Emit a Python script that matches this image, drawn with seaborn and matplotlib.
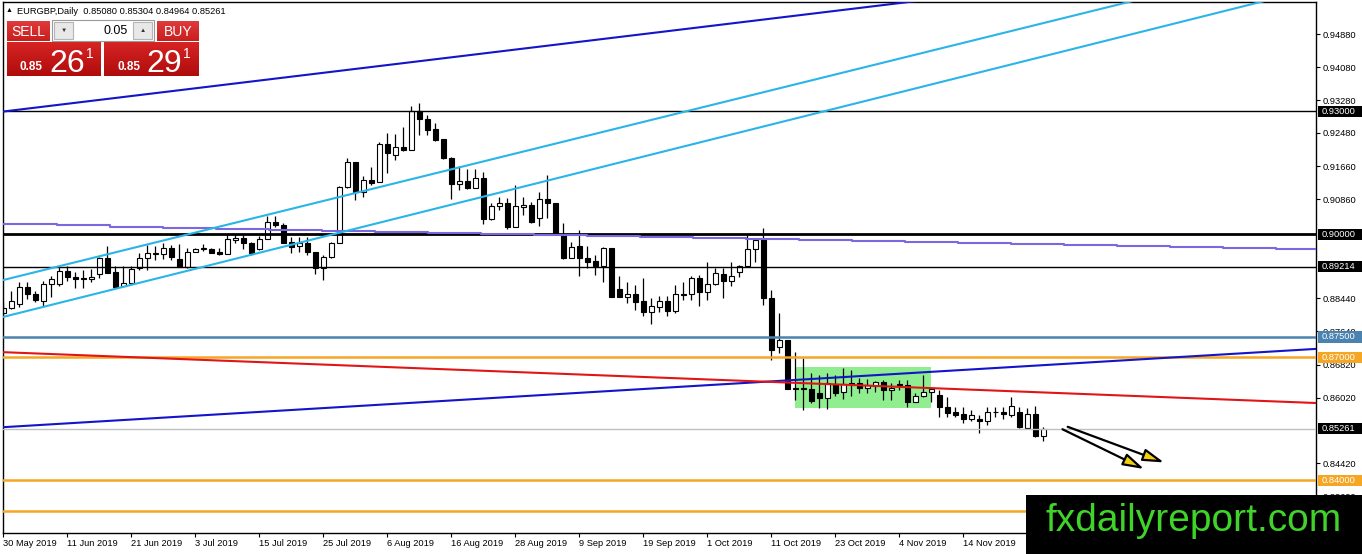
import matplotlib
matplotlib.use("Agg")
import matplotlib.pyplot as plt
import matplotlib.patches as mpatches
import matplotlib.colors as mcolors
import numpy as np
import pandas as pd
import seaborn as sns

# ---------------------------------------------------------------------------
# EURGBP daily candles (30 May 2019 -> 28 Nov 2019), one entry per trading day
# ---------------------------------------------------------------------------
opens = [
    0.8809, 0.8820, 0.8830, 0.8871, 0.8855, 0.8839, 0.8879, 0.8880, 0.8911, 0.8896,
    0.8893, 0.8892, 0.8903, 0.8943, 0.8908, 0.8875, 0.8881, 0.8918, 0.8942, 0.8952,
    0.8952, 0.8968, 0.8940, 0.8920, 0.8958, 0.8964, 0.8965, 0.8957, 0.8952, 0.8986,
    0.8992, 0.8980, 0.8964, 0.8988, 0.9030, 0.9023, 0.8981, 0.8972, 0.8980, 0.8958,
    0.8918, 0.8944, 0.8980, 0.9115, 0.9176, 0.9103, 0.9133, 0.9129, 0.9221, 0.9194,
    0.9214, 0.9206, 0.9300, 0.9281, 0.9257, 0.9232, 0.9186, 0.9123, 0.9131, 0.9113,
    0.9137, 0.9037, 0.9070, 0.9078, 0.9019, 0.9066, 0.9072, 0.9040, 0.9086, 0.9076,
    0.8999, 0.8942, 0.8972, 0.8942, 0.8935, 0.8924, 0.8966, 0.8867, 0.8847, 0.8855,
    0.8838, 0.8812, 0.8824, 0.8838, 0.8814, 0.8855, 0.8854, 0.8893, 0.8859, 0.8879,
    0.8903, 0.8887, 0.8909, 0.8922, 0.8964, 0.8988, 0.8844, 0.8725, 0.8743, 0.8625,
    0.8625, 0.8623, 0.8613, 0.8601, 0.8635, 0.8617, 0.8635, 0.8639, 0.8625, 0.8631,
    0.8641, 0.8621, 0.8635, 0.8633, 0.8592, 0.8606, 0.8617, 0.8609, 0.8580, 0.8568,
    0.8562, 0.8551, 0.8549, 0.8546, 0.8567, 0.8568, 0.8559, 0.8568, 0.8529, 0.8562,
    0.8508,
]
highs = [
    0.8836, 0.8861, 0.8884, 0.8885, 0.8861, 0.8887, 0.8899, 0.8923, 0.8923, 0.8909,
    0.8914, 0.8916, 0.8946, 0.8972, 0.8923, 0.8922, 0.8923, 0.8956, 0.8974, 0.8972,
    0.8980, 0.8974, 0.8976, 0.8968, 0.8968, 0.8976, 0.8968, 0.8968, 0.9000, 0.9000,
    0.8999, 0.8982, 0.8996, 0.9045, 0.9044, 0.9027, 0.8993, 0.8993, 0.8993, 0.8958,
    0.8950, 0.8982, 0.9118, 0.9186, 0.9176, 0.9143, 0.9165, 0.9225, 0.9247, 0.9245,
    0.9263, 0.9313, 0.9320, 0.9291, 0.9271, 0.9232, 0.9188, 0.9167, 0.9159, 0.9159,
    0.9153, 0.9076, 0.9092, 0.9090, 0.9121, 0.9091, 0.9080, 0.9104, 0.9145, 0.9076,
    0.9029, 0.8982, 0.9011, 0.8972, 0.8950, 0.8970, 0.8966, 0.8899, 0.8885, 0.8877,
    0.8893, 0.8844, 0.8850, 0.8850, 0.8877, 0.8883, 0.8899, 0.8901, 0.8934, 0.8918,
    0.8918, 0.8934, 0.8926, 0.8999, 0.8991, 0.9015, 0.8865, 0.8808, 0.8743, 0.8714,
    0.8698, 0.8662, 0.8657, 0.8662, 0.8657, 0.8674, 0.8670, 0.8649, 0.8647, 0.8643,
    0.8645, 0.8637, 0.8645, 0.8645, 0.8613, 0.8657, 0.8627, 0.8621, 0.8604, 0.8579,
    0.8580, 0.8572, 0.8560, 0.8579, 0.8580, 0.8580, 0.8604, 0.8580, 0.8576, 0.8582,
    0.8530,
]
lows = [
    0.8800, 0.8818, 0.8824, 0.8842, 0.8836, 0.8824, 0.8848, 0.8875, 0.8887, 0.8869,
    0.8870, 0.8885, 0.8893, 0.8907, 0.8870, 0.8875, 0.8881, 0.8914, 0.8914, 0.8938,
    0.8940, 0.8938, 0.8920, 0.8919, 0.8957, 0.8960, 0.8954, 0.8950, 0.8952, 0.8980,
    0.8965, 0.8950, 0.8962, 0.8988, 0.9019, 0.8979, 0.8954, 0.8958, 0.8950, 0.8904,
    0.8889, 0.8942, 0.8980, 0.9113, 0.9084, 0.9091, 0.9121, 0.9127, 0.9151, 0.9182,
    0.9204, 0.9206, 0.9243, 0.9243, 0.9229, 0.9184, 0.9086, 0.9109, 0.9110, 0.9113,
    0.9026, 0.9035, 0.9060, 0.9013, 0.9018, 0.9048, 0.9027, 0.9021, 0.9040, 0.8999,
    0.8940, 0.8942, 0.8899, 0.8918, 0.8901, 0.8883, 0.8848, 0.8847, 0.8834, 0.8816,
    0.8800, 0.8782, 0.8812, 0.8800, 0.8809, 0.8840, 0.8840, 0.8826, 0.8840, 0.8877,
    0.8844, 0.8875, 0.8897, 0.8920, 0.8934, 0.8828, 0.8694, 0.8712, 0.8623, 0.8596,
    0.8572, 0.8590, 0.8576, 0.8574, 0.8606, 0.8598, 0.8606, 0.8613, 0.8613, 0.8617,
    0.8596, 0.8596, 0.8621, 0.8580, 0.8591, 0.8604, 0.8592, 0.8554, 0.8556, 0.8554,
    0.8541, 0.8544, 0.8517, 0.8535, 0.8554, 0.8549, 0.8556, 0.8527, 0.8527, 0.8505,
    0.8496,
]
closes = [
    0.8820, 0.8839, 0.8871, 0.8854, 0.8841, 0.8879, 0.8892, 0.8911, 0.8896, 0.8892,
    0.8892, 0.8897, 0.8943, 0.8907, 0.8873, 0.8881, 0.8916, 0.8942, 0.8954, 0.8954,
    0.8968, 0.8946, 0.8920, 0.8957, 0.8965, 0.8966, 0.8956, 0.8952, 0.8988, 0.8991,
    0.8979, 0.8954, 0.8988, 0.9031, 0.9023, 0.8980, 0.8970, 0.8979, 0.8958, 0.8918,
    0.8944, 0.8980, 0.9115, 0.9176, 0.9103, 0.9133, 0.9126, 0.9221, 0.9198, 0.9214,
    0.9206, 0.9302, 0.9281, 0.9255, 0.9230, 0.9186, 0.9123, 0.9131, 0.9113, 0.9137,
    0.9037, 0.9070, 0.9078, 0.9019, 0.9070, 0.9072, 0.9030, 0.9086, 0.9076, 0.9001,
    0.8942, 0.8969, 0.8942, 0.8934, 0.8924, 0.8966, 0.8848, 0.8847, 0.8854, 0.8836,
    0.8812, 0.8826, 0.8838, 0.8814, 0.8855, 0.8853, 0.8893, 0.8859, 0.8879, 0.8905,
    0.8887, 0.8899, 0.8922, 0.8964, 0.8987, 0.8844, 0.8718, 0.8743, 0.8623, 0.8624,
    0.8623, 0.8595, 0.8601, 0.8639, 0.8614, 0.8635, 0.8639, 0.8625, 0.8633, 0.8641,
    0.8621, 0.8626, 0.8633, 0.8592, 0.8606, 0.8617, 0.8623, 0.8580, 0.8565, 0.8559,
    0.8551, 0.8559, 0.8546, 0.8567, 0.8566, 0.8562, 0.8582, 0.8530, 0.8562, 0.8508,
    0.8526,
]

date_bars = [0, 8, 16, 24, 32, 40, 48, 56, 64, 72, 80, 88, 96, 104, 112, 120, 128]
date_labels = [
    "30 May 2019", "11 Jun 2019", "21 Jun 2019", "3 Jul 2019", "15 Jul 2019",
    "25 Jul 2019", "6 Aug 2019", "16 Aug 2019", "28 Aug 2019", "9 Sep 2019",
    "19 Sep 2019", "1 Oct 2019", "11 Oct 2019", "23 Oct 2019", "4 Nov 2019",
    "14 Nov 2019", "26 Nov 2019",
]
price_ticks = [0.9488, 0.9408, 0.9328, 0.9248, 0.9166, 0.9086, 0.8844,
               0.8764, 0.8682, 0.8602, 0.8442, 0.8362]

# horizontal levels: (price, colour, width)
levels = [
    (0.9300, "black", 1.0),
    (0.9000, "black", 2.0),
    (0.89214, "black", 1.0),
    (0.8750, "#4a82b0", 1.8),
    (0.8700, "#f5a623", 1.8),
    (0.85261, "#c0c0c0", 1.0),
    (0.8400, "#f5a623", 1.8),
    (0.8325, "#f5a623", 1.8),
]
# boxed labels on the price scale
boxed = [
    (0.9300, "0.93000", "black"),
    (0.9000, "0.90000", "black"),
    (0.89214, "0.89214", "black"),
    (0.8750, "0.87500", "#4a82b0"),
    (0.8700, "0.87000", "#f5a623"),
    (0.85261, "0.85261", "black"),
    (0.8400, "0.84000", "#f5a623"),
]

# trend lines: anchor points (bar index, price)
navy_upper_x, navy_upper_y = [-0.4, 125.0], [0.9299, 0.9595]
navy_lower_x, navy_lower_y = [-0.04, 164.09], [0.8530, 0.8721]
cyan_upper_x, cyan_upper_y = [-0.41, 150.0], [0.8887, 0.9612]
cyan_lower_x, cyan_lower_y = [-0.41, 164.09], [0.8797, 0.9601]
red_x, red_y = [-0.04, 164.09], [0.8713, 0.8589]

purple_x = [-0.4, 6.7, 13.3, 20.0, 26.6, 33.2, 39.8, 46.5, 53.1, 59.7, 66.3, 73.0,
            79.6, 86.2, 92.8, 99.5, 106.1, 112.7, 119.3, 126.0, 132.6, 139.2,
            145.8, 152.5, 159.1, 164.1]
purple_y = [0.9025, 0.9022, 0.9019, 0.9017, 0.9014, 0.9011, 0.9009, 0.9007, 0.9004,
            0.9002, 0.8999, 0.8996, 0.8994, 0.8992, 0.8989, 0.8987, 0.8984, 0.8982,
            0.8979, 0.8977, 0.8974, 0.8972, 0.8970, 0.8967, 0.8965, 0.8965]

# consolidation box (bar from, bar to, price low, price high)
box_bars = (98.95, 115.95)
box_prices = (0.8578, 0.8676)

# arrows: (start bar, start price, end bar, end price)
arrows = [
    (133.05, 0.8531, 145.1, 0.8444),
    (132.4, 0.8525, 142.6, 0.8428),
]

# ---------------------------------------------------------------------------
W, H = 1362, 554
sns.set_style("white")
plt.rcParams["font.family"] = ["Liberation Sans", "DejaVu Sans"]

fig = plt.figure(figsize=(W / 100, H / 100), dpi=100)
fig.patch.set_facecolor("white")
ax = fig.add_axes([3 / W, 21 / H, 1313 / W, 531 / H])
ax.set_facecolor("white")

df = pd.DataFrame({"bar": np.arange(len(opens)), "open": opens, "high": highs,
                   "low": lows, "close": closes})
up = df["close"] >= df["open"]

# consolidation rectangle behind the candles
ax.add_patch(mpatches.Rectangle((box_bars[0], box_prices[0]),
                                box_bars[1] - box_bars[0],
                                box_prices[1] - box_prices[0],
                                fc="#90ee90", ec="none", zorder=1))

# candles
ax.vlines(df["bar"], df["low"], df["high"], color="black", lw=0.9, zorder=2)
body = (df["close"] - df["open"]).abs().clip(lower=0.00005)
ax.bar(df["bar"], body, bottom=df[["open", "close"]].min(axis=1), width=0.62,
       color=np.where(up, "white", "black"), edgecolor="black", linewidth=0.8,
       zorder=2.2)

# levels and trend lines
for price, col, lw in levels:
    ax.axhline(price, color=col, lw=lw, zorder=3)

for xs, ys, col, lw in [
    (navy_upper_x, navy_upper_y, "#1414c8", 1.5),
    (navy_lower_x, navy_lower_y, "#1414c8", 1.5),
    (cyan_upper_x, cyan_upper_y, "#2ab4e8", 1.5),
    (cyan_lower_x, cyan_lower_y, "#2ab4e8", 1.5),
    (red_x, red_y, "#e01515", 1.5),
]:
    sns.lineplot(x=xs, y=ys, color=col, linewidth=lw, ax=ax, sort=False,
                 estimator=None, zorder=3.5)

sns.lineplot(x=purple_x, y=purple_y, color="#7b68e0", linewidth=1.5, ax=ax,
             sort=False, estimator=None, drawstyle="steps-post", zorder=3.2)

for x0, y0, x1, y1 in arrows:
    ax.annotate("", xy=(x1, y1), xytext=(x0, y0),
                arrowprops=dict(arrowstyle="-|>,head_length=0.75,head_width=0.22",
                                fc="#f2d00f", ec="black", lw=1.6,
                                mutation_scale=17, shrinkA=0, shrinkB=0),
                zorder=4)

ax.set_xlim(-0.0375, 164.09)
ax.set_ylim(0.827195, 0.956707)

# axes styling
for sp in ax.spines.values():
    sp.set_color("black")
    sp.set_linewidth(1.0)
ax.yaxis.tick_right()
ax.set_yticks(price_ticks)
ax.set_yticklabels([f"{v:.5f}" for v in price_ticks], fontsize=6.7)
ax.tick_params(axis="y", direction="out", length=3, width=0.8, pad=1.5,
               right=True, left=False, colors="black")
ax.set_xticks(date_bars)
ax.set_xticklabels(date_labels, fontsize=6.7, ha="left")
ax.tick_params(axis="x", direction="out", length=3, width=0.8, pad=1.5,
               bottom=True, colors="black")
ax.set_xlabel("")
ax.set_ylabel("")
ax.grid(False)

# boxed price labels
ytrans = ax.get_yaxis_transform()
for price, txt, bg in boxed:
    ax.add_patch(mpatches.Rectangle((1.0015, price - 0.00136), 0.0335, 0.00272,
                                    transform=ytrans, clip_on=False, fc=bg,
                                    ec="none", zorder=6))
    ax.text(1.0045, price, txt, transform=ytrans, fontsize=6.7, color="white",
            va="center", ha="left", clip_on=False, zorder=7)

# ---------------------------------------------------------------------------
# overlay in pixel coordinates: header, trade panel, watermark
# ---------------------------------------------------------------------------
ov = fig.add_axes([0, 0, 1, 1], zorder=10)
ov.patch.set_visible(False)
ov.axis("off")


def box(x0, y0, x1, y1, fc, ec="none", lw=0.8):
    ov.add_patch(mpatches.Rectangle((x0, y0), x1 - x0, y1 - y0, fc=fc, ec=ec, lw=lw))


def gradient(x0, y0, x1, y1, top, bottom):
    c0 = np.array(mcolors.to_rgb(top))
    c1 = np.array(mcolors.to_rgb(bottom))
    t = np.linspace(0, 1, 40)[:, None]
    img = (c0 * (1 - t) + c1 * t)[:, None, :]
    ov.imshow(img, extent=(x0, x1, y1, y0), aspect="auto", interpolation="bilinear")


ov.text(6, 11, "\u25b2", fontsize=5, va="center", ha="left", color="black")
ov.text(17, 11, "EURGBP,Daily  0.85080 0.85304 0.84964 0.85261", fontsize=6.7,
        va="center", ha="left", color="black")

# SELL / BUY headers
gradient(7, 21, 50, 41, "#e03a3a", "#c81e1e")
gradient(157, 21, 199, 41, "#e03a3a", "#c81e1e")
ov.text(28.5, 31.5, "SELL", fontsize=10, color="white", ha="center", va="center")
ov.text(178, 31.5, "BUY", fontsize=10, color="white", ha="center", va="center")

# lot spinner
box(52, 20, 154, 41, "white", ec="#9a9a9a")
box(54, 22, 73, 39, "#e8e8e8", ec="#b5b5b5")
box(133, 22, 152, 39, "#e8e8e8", ec="#b5b5b5")
ov.text(63.5, 30.5, "\u25bc", fontsize=4.5, color="#333333", ha="center", va="center")
ov.text(142.5, 30.5, "\u25b2", fontsize=4.5, color="#333333", ha="center", va="center")
ov.text(128, 31, "0.05", fontsize=9, color="black", ha="right", va="center")

# price boxes
gradient(7, 42, 101, 76, "#d62424", "#b00c0c")
gradient(104, 42, 199, 76, "#d62424", "#b00c0c")
for x_small, x_big, x_sup, big in [(20, 49, 86, "26"), (117, 146, 183, "29")]:
    ov.text(x_small, 70.5, "0.85", fontsize=8.5, fontweight="bold", color="white",
            ha="left", va="baseline")
    ov.text(x_big, 71.5, big, fontsize=23, color="white", ha="left", va="baseline")
    ov.text(x_sup, 58, "1", fontsize=10, color="white", ha="left", va="baseline")

# watermark
box(1026, 495, W, H, "black")
ov.text(1193.5, 531, "fxdailyreport.com", fontsize=28, color="#40d42b",
        ha="center", va="baseline")

ov.set_xlim(0, W)
ov.set_ylim(H, 0)

fig.savefig("out.png", dpi=100)
